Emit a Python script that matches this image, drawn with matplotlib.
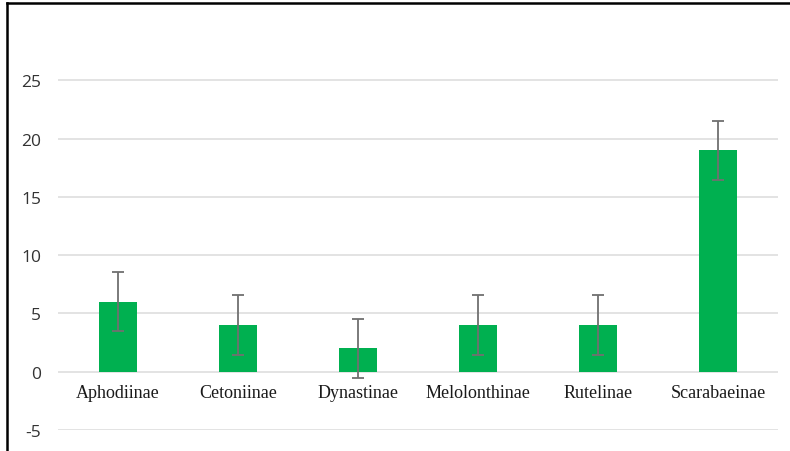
import matplotlib.pyplot as plt
from matplotlib.lines import Line2D

subfamilies = ["Aphodiinae", "Cetoniinae", "Dynastinae", "Melolonthinae", "Rutelinae", "Scarabaeinae"]
means = [6, 4, 2, 4, 4, 19]
errors = [2.55, 2.55, 2.55, 2.55, 2.55, 2.55]
yticks = [-5, 0, 5, 10, 15, 20, 25]

fig = plt.figure(figsize=(7.9, 4.52), dpi=100)
ax = fig.add_axes([58 / 790, 21 / 452, 720 / 790, 408 / 452])

# move x axis to y=0 first (this resets tick styling)
ax.spines["bottom"].set_position(("data", 0))
for s in ax.spines.values():
    s.set_visible(False)

ax.bar(range(len(subfamilies)), means, width=0.31, color="#00B050", zorder=3)
ax.errorbar(range(len(subfamilies)), means, yerr=errors, fmt="none",
            ecolor="#707070", elinewidth=1.3, capsize=4, capthick=1.3, zorder=4)

ax.set_xlim(-0.5, len(subfamilies) - 0.5)
ax.set_ylim(-5, 30)
ax.set_yticks(yticks)
ax.set_yticklabels([str(t) for t in yticks], fontsize=12.5, color="#333333",
                   fontfamily="Open Sans")
for t in yticks:
    ax.axhline(t, color="#e0e0e0", linewidth=1.3, zorder=1)

ax.set_xticks(range(len(subfamilies)))
ax.set_xticklabels(subfamilies, fontsize=13, color="#1a1a1a", fontfamily="Liberation Serif")
ax.tick_params(axis="x", length=0, pad=9)
ax.tick_params(axis="y", length=0, pad=12)

# frame lines of the cropped chart border
fig.add_artist(Line2D([7 / 790, 1], [1 - 4 / 452, 1 - 4 / 452], color="black", linewidth=1.8))
fig.add_artist(Line2D([7 / 790, 7 / 790], [0, 1 - 4 / 452], color="black", linewidth=1.8))

fig.savefig("out.png", dpi=100)
